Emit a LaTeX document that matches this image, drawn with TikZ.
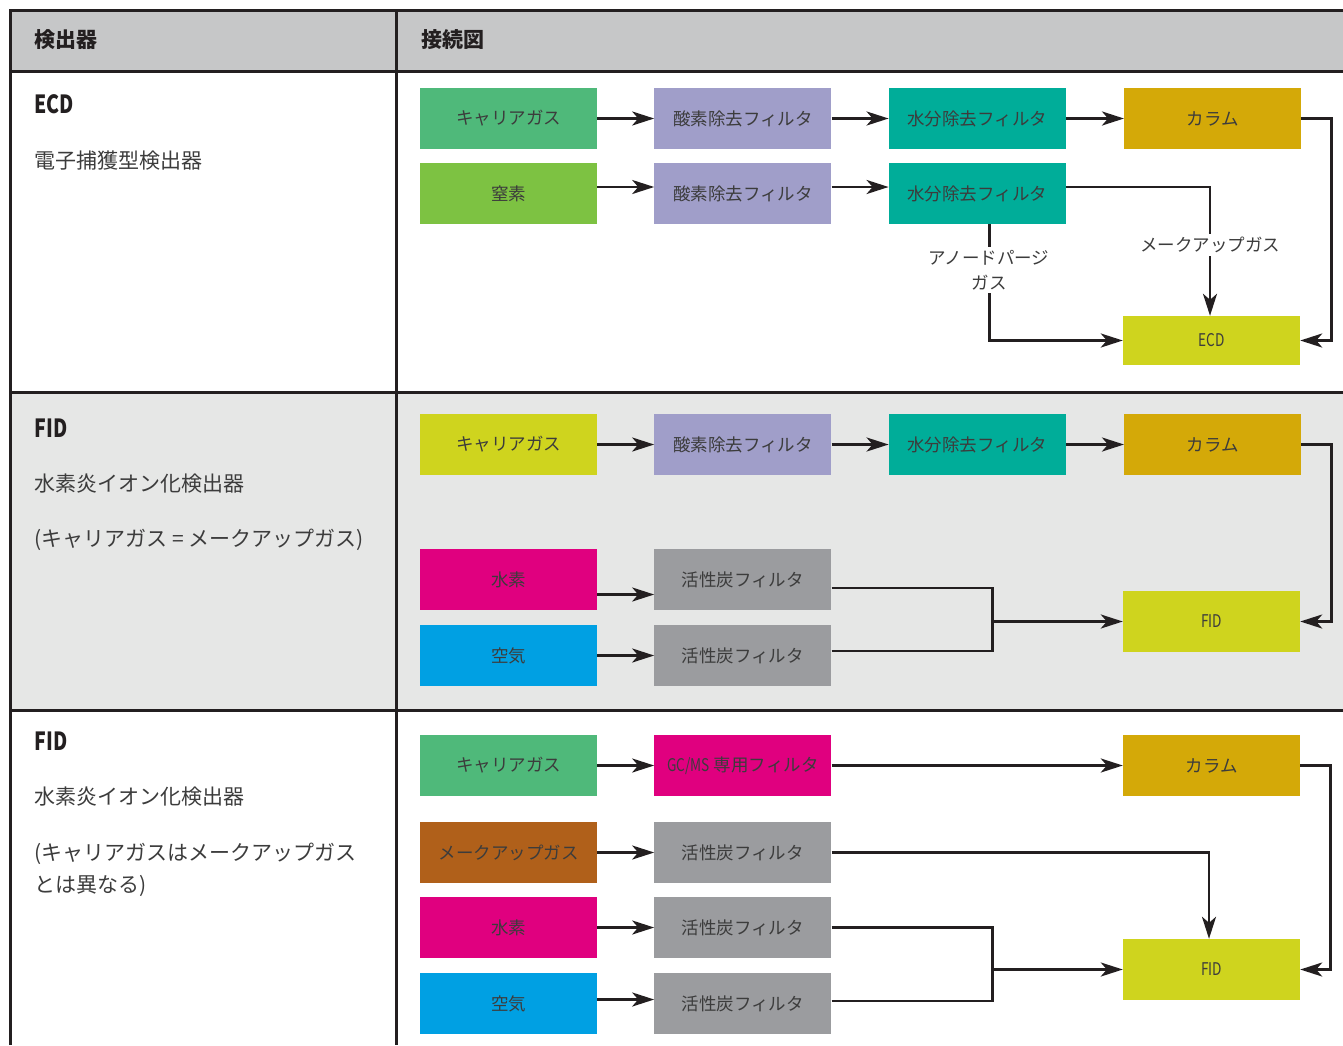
\documentclass[tikz,border=0pt]{standalone}
\usepackage{fontspec}
\setmainfont{Noto Sans CJK JP}
\usetikzlibrary{arrows.meta, positioning, calc}
\definecolor{ink}{RGB}{35,31,32}
\definecolor{txt}{RGB}{60,60,60}
\definecolor{hdr}{RGB}{198,199,200}
\definecolor{band}{RGB}{230,231,230}
\definecolor{carrier}{RGB}{79,185,122}
\definecolor{nitro}{RGB}{125,194,66}
\definecolor{oxyf}{RGB}{160,158,201}
\definecolor{waterf}{RGB}{0,173,153}
\definecolor{column}{RGB}{212,169,8}
\definecolor{detect}{RGB}{207,212,30}
\definecolor{hydro}{RGB}{224,0,127}
\definecolor{air}{RGB}{0,160,227}
\definecolor{carbon}{RGB}{155,156,159}
\definecolor{makeup}{RGB}{176,96,26}
\newcommand{\narrow}[1]{\scalebox{0.78}[1]{#1}}

\begin{document}
\begin{tikzpicture}[x=1pt, y=-1pt,
    >={Stealth[length=22pt,width=14pt,inset=6pt]},
    gasbox/.style={minimum width=177pt, minimum height=61pt, inner sep=0pt,
                   text=txt, font=\fontsize{17.5}{20}\selectfont},
    pipe/.style={ink, line width=2.8pt},
    flow/.style={pipe, ->},
    gaslabel/.style={fill=white, inner sep=3pt, text=txt, align=center,
                     font=\fontsize{17.5}{25}\selectfont},
    head/.style={anchor=west, text=ink, font=\fontsize{21}{24}\selectfont\bfseries},
    desc/.style={anchor=west, text=txt, font=\fontsize{21}{32}\selectfont, align=left}]
    \useasboundingbox (0,0) rectangle (1343,1045);

    % header / band fills
    \fill[hdr]  (10,10) rectangle (1343,71);
    \fill[band] (10,392) rectangle (1343,710);

    % table rules
    \draw[ink, line width=3pt] (10,1045) -- (10,10) -- (1343,10);
    \draw[ink, line width=3pt] (10,71) -- (1343,71);
    \draw[ink, line width=3pt] (10,392) -- (1343,392);
    \draw[ink, line width=3pt] (10,710) -- (1343,710);
    \draw[ink, line width=3pt] (396,10) -- (396,1045);

    % header texts
    \node[head] (hdet) at (31,40) {検出器};
    \node[head] (hcon) at (418,40) {接続図};

    % left column
    \node[head, font=\fontsize{25}{28}\selectfont\bfseries] (t1) at (31,104) {\narrow{ECD}};
    \node[desc] (d1) at (31,161) {電子捕獲型検出器};
    \node[head, font=\fontsize{25}{28}\selectfont\bfseries] (t2) at (31,428) {\narrow{FID}};
    \node[desc] (d2) at (31,484) {水素炎イオン化検出器};
    \node[desc] (n2) at (31,540) {(キャリアガス = メークアップガス)};
    \node[head, font=\fontsize{25}{28}\selectfont\bfseries] (t3) at (31,741) {\narrow{FID}};
    \node[desc] (d3) at (31,797) {水素炎イオン化検出器};
    \node[desc] (n3) at (31,870) {(キャリアガスはメークアップガス\\とは異なる)};

    % ECD scheme
    \node[gasbox, fill=carrier] (e1) at (508.5,118.5) {キャリアガス};
    \node[gasbox, fill=oxyf,   right=57pt of e1] (e2) {酸素除去フィルタ};
    \node[gasbox, fill=waterf, right=57pt of e2] (e3) {水分除去フィルタ};
    \node[gasbox, fill=column, right=58pt of e3] (e4) {カラム};
    \node[gasbox, fill=nitro] (m1) at (508.5,193.5) {窒素};
    \node[gasbox, fill=oxyf,   right=57pt of m1] (m2) {酸素除去フィルタ};
    \node[gasbox, fill=waterf, right=57pt of m2] (m3) {水分除去フィルタ};
    \node[gasbox, fill=detect, minimum height=49pt] (ecd) at (1211.5,340.5) {\narrow{ECD}};

    \draw[flow] (e1) -- (e2);
    \draw[flow] (e2) -- (e3);
    \draw[flow] (e3) -- (e4);
    \draw[flow] ([yshift=6.5pt]m1.east) -- ([yshift=6.5pt]m2.west);
    \draw[flow] ([yshift=6.5pt]m2.east) -- ([yshift=6.5pt]m3.west);
    \draw[flow] (e4.east) -- ++(30,0) |- (ecd.east);
    \draw[flow] ([yshift=6.5pt]m3.east) -| ([xshift=-1.5pt]ecd.north);
    \draw[flow] ([xshift=12.5pt]m3.south) |- (ecd.west);
    \node[gaslabel] (anode) at (989,270) {アノードパージ\\ガス};
    \node[gaslabel] (mkup) at (1210,245) {メークアップガス};

    % FID scheme, same gas
    \node[gasbox, fill=detect] (f1) at (508.5,444.5) {キャリアガス};
    \node[gasbox, fill=oxyf,   right=57pt of f1] (f2) {酸素除去フィルタ};
    \node[gasbox, fill=waterf, right=57pt of f2] (f3) {水分除去フィルタ};
    \node[gasbox, fill=column, right=58pt of f3] (f4) {カラム};
    \node[gasbox, fill=hydro] (h1) at (508.5,579.5) {水素};
    \node[gasbox, fill=carbon, right=57pt of h1] (h2) {活性炭フィルタ};
    \node[gasbox, fill=air] (a1) at (508.5,655.5) {空気};
    \node[gasbox, fill=carbon, right=57pt of a1] (a2) {活性炭フィルタ};
    \node[gasbox, fill=detect] (fid) at (1211.5,621.5) {\narrow{FID}};
    \coordinate (j2) at ([xshift=-130pt]fid.west);

    \draw[flow] (f1) -- (f2);
    \draw[flow] (f2) -- (f3);
    \draw[flow] (f3) -- (f4);
    \draw[flow] ([yshift=-15pt]h1.east) -- ([yshift=-15pt]h2.west);
    \draw[flow] (a1) -- (a2);
    \draw[pipe] ([yshift=-8.5pt]h2.east) -| (j2);
    \draw[pipe] ([yshift=4.5pt]a2.east) -| (j2);
    \draw[flow] (j2) -- (fid.west);
    \draw[flow] (f4.east) -- ++(30,0) |- (fid.east);

    % FID scheme, separate make-up gas
    \node[gasbox, fill=carrier] (g1) at (508.5,765.5) {キャリアガス};
    \node[gasbox, fill=hydro, right=57pt of g1] (g2) {\narrow{GC/MS} 専用フィルタ};
    \node[gasbox, fill=column] (g4) at (1211.5,765.5) {カラム};
    \node[gasbox, fill=makeup] (k1) at (508.5,852.5) {メークアップガス};
    \node[gasbox, fill=carbon, right=57pt of k1] (k2) {活性炭フィルタ};
    \node[gasbox, fill=hydro] (p1) at (508.5,927.5) {水素};
    \node[gasbox, fill=carbon, right=57pt of p1] (p2) {活性炭フィルタ};
    \node[gasbox, fill=air] (q1) at (508.5,1003.5) {空気};
    \node[gasbox, fill=carbon, right=57pt of q1] (q2) {活性炭フィルタ};
    \node[gasbox, fill=detect] (fid3) at (1211.5,969.5) {\narrow{FID}};
    \coordinate (j3) at ([xshift=-130pt]fid3.west);

    \draw[flow] (g1) -- (g2);
    \draw[flow] (g2) -- (g4);
    \draw[flow] (k1) -- (k2);
    \draw[flow] (p1) -- (p2);
    \draw[flow] ([yshift=4pt]q1.east) -- ([yshift=4pt]q2.west);
    \draw[flow] (k2.east) -| ([xshift=-2.5pt]fid3.north);
    \draw[pipe] (p2.east) -| (j3);
    \draw[pipe] ([yshift=2.5pt]q2.east) -| (j3);
    \draw[flow] (j3) -- (fid3.west);
    \draw[flow] (g4.east) -- ++(30,0) |- (fid3.east);
  \end{tikzpicture}
\end{document}
